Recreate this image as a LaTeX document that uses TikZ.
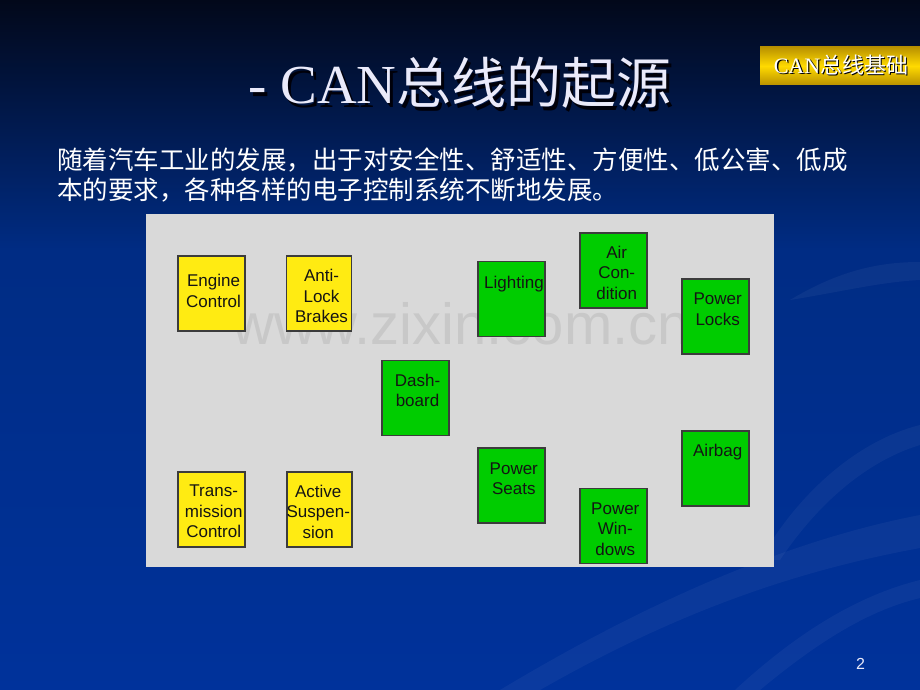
\documentclass[tikz,border=0pt]{standalone}
\usepackage{fontspec}
\setmainfont{Liberation Sans}
\newfontfamily\cjk{Noto Sans CJK SC}
\newfontfamily\tnr{Liberation Serif}
\definecolor{bgtop}{RGB}{2,8,26}
\definecolor{bgmid}{RGB}{0,44,132}
\definecolor{bgbot}{RGB}{0,50,155}
\definecolor{panelgray}{RGB}{217,217,217}
\definecolor{wmgray}{RGB}{200,200,200}
\definecolor{boxyellow}{RGB}{255,235,18}
\definecolor{boxgreen}{RGB}{0,204,0}
\definecolor{boxline}{RGB}{60,60,60}
\definecolor{boxtext}{RGB}{20,20,20}
\definecolor{golddark}{RGB}{185,145,0}
\definecolor{goldlight}{RGB}{255,218,0}
\definecolor{titlecol}{RGB}{234,234,250}
\definecolor{shadowcol}{RGB}{0,0,10}
\begin{document}
\begin{tikzpicture}[x=1pt,y=-1pt,
  ecu/.style={draw=boxline, line width=1.2pt, minimum width=67pt, minimum height=75pt, inner sep=0pt},
  yecu/.style={ecu, fill=boxyellow},
  gecu/.style={ecu, fill=boxgreen},
  ecutext/.style={text=boxtext, font=\fontsize{17}{20.5}\selectfont, align=center, inner sep=0pt, text depth=0pt},
  titletext/.style={font=\fontsize{55}{60}\selectfont, inner sep=0pt, anchor=base},
  tagtext/.style={font=\fontsize{22}{24}\selectfont, inner sep=0pt, anchor=base},
  bodytext/.style={text=white, font=\cjk\fontsize{25.5}{30}\selectfont, inner sep=0pt, anchor=base west},
  swoosh/.style={fill=white, opacity=0.045},
]
\useasboundingbox (0,0) rectangle (920,690);
% background
\shade[top color=bgtop, bottom color=bgmid] (0,0) rectangle (920,251);
\shade[top color=bgmid, bottom color=bgbot] (0,250) rectangle (920,690);
\fill[swoosh] (540,690) .. controls (680,610) and (800,570) .. (920,548) -- (920,515) .. controls (790,540) and (650,600) .. (500,690) -- cycle;
\fill[swoosh] (760,690) .. controls (820,640) and (870,610) .. (920,598) -- (920,580) .. controls (860,595) and (800,630) .. (735,690) -- cycle;
\fill[swoosh] (780,560) .. controls (820,500) and (870,460) .. (920,445) -- (920,425) .. controls (860,440) and (800,490) .. (760,560) -- cycle;
\fill[swoosh] (790,300) .. controls (840,270) and (880,262) .. (920,262) -- (920,280) .. controls (880,282) and (840,292) .. (790,300) -- cycle;
% gold tag
\shade[top color=golddark, bottom color=golddark, middle color=goldlight] (760,47) rectangle (920,85);
\node[tagtext, text=shadowcol] (tagS) at (842.5,75) {{\tnr CAN}{\cjk 总线基础}};
\node[tagtext, text=white] (tag) at (841,73.5) {{\tnr CAN}{\cjk 总线基础}};
% title
\node[titletext, text=shadowcol] (titleS) at (463,107) {{\tnr - CAN}{\cjk 总线的起源}};
\node[titletext, text=titlecol] (title) at (460,104) {{\tnr - CAN}{\cjk 总线的起源}};
% body text
\node[bodytext] (line1) at (57,169) {随着汽车工业的发展，出于对安全性、舒适性、方便性、低公害、低成};
\node[bodytext] (line2) at (57,199) {本的要求，各种各样的电子控制系统不断地发展。};
% panel
\fill[panelgray] (146,214) rectangle (774,567);
\node[text=wmgray, font=\fontsize{58}{60}\selectfont, inner sep=0pt, anchor=base west] (wm) at (232,344) {www.zixin.com.cn};
% ECU boxes
\node[yecu] (engine) at (211.5,293.5) {};
\node[ecutext] (engineT) at (213.5,291) {Engine\\Control};
\node[yecu, minimum width=65pt] (abs) at (319,293.5) {};
\node[ecutext] (absT) at (321.5,296) {Anti-\\Lock\\Brakes};
\node[gecu] (dash) at (415.5,398) {};
\node[ecutext] (dashT) at (417.5,390.5) {Dash-\\board};
\node[yecu] (trans) at (211.5,509.5) {};
\node[ecutext] (transT) at (213.7,511.5) {Trans-\\mission\\Control};
\node[yecu, minimum width=65pt] (susp) at (319.5,509.5) {};
\node[ecutext] (suspT) at (318.3,511.5) {Active\\Suspen-\\sion};
\node[gecu] (light) at (511.5,299) {};
\node[ecutext] (lightT) at (514,282) {Lighting};
\node[gecu] (air) at (613.5,270.5) {};
\node[ecutext] (airT) at (616.7,272.5) {Air\\Con-\\dition};
\node[gecu] (locks) at (715.5,316.5) {};
\node[ecutext] (locksT) at (717.7,309) {Power\\Locks};
\node[gecu] (seats) at (511.5,485.5) {};
\node[ecutext] (seatsT) at (513.8,478.5) {Power\\Seats};
\node[gecu] (windows) at (613.5,526) {};
\node[ecutext] (windowsT) at (615.3,529) {Power\\Win-\\dows};
\node[gecu] (airbag) at (715.5,468.5) {};
\node[ecutext] (airbagT) at (717.7,450.7) {Airbag};
% page number
\node[text=titlecol, font=\fontsize{16}{18}\selectfont, inner sep=0pt, anchor=base] (page) at (860.5,669) {2};
\end{tikzpicture}
\end{document}
